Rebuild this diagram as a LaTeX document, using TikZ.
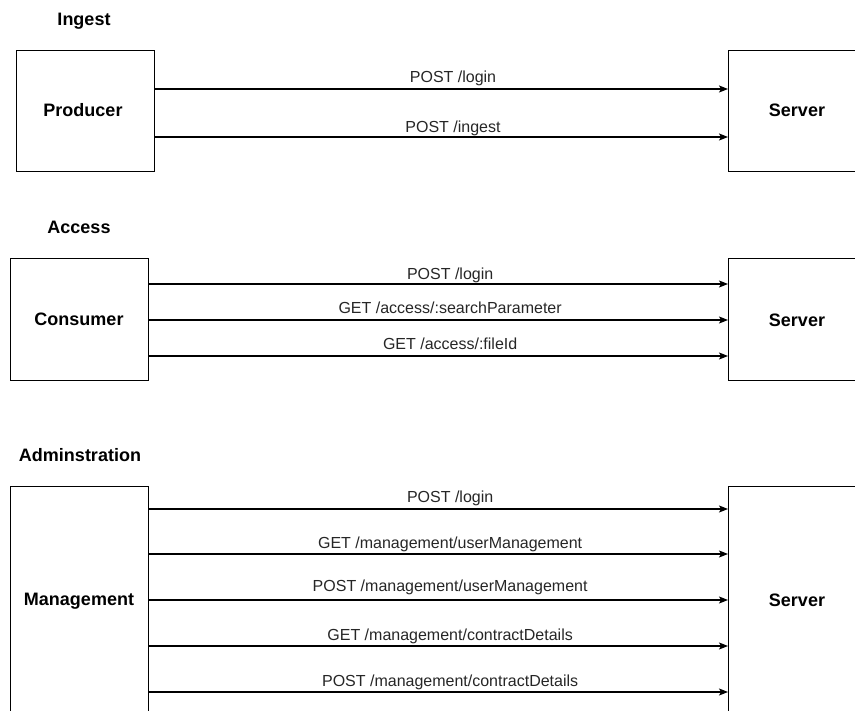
\documentclass[tikz,border=0pt]{standalone}
\usepackage{fontspec}
\setmainfont{Liberation Sans}
\usetikzlibrary{arrows.meta}
\begin{document}
\begin{tikzpicture}[x=1pt,y=-1pt,
  box/.style={draw, line width=1.1pt, minimum width=138pt, anchor=north west, inner sep=0pt},
  btxt/.style={font=\fontsize{18}{20}\selectfont\bfseries, inner sep=0pt},
  arr/.style={draw, line width=1.1pt, -{Stealth[length=9pt,width=7pt,inset=2pt]}},
  lbl/.style={font=\fontsize{16}{18}\selectfont, text=black!85, pos=.52, anchor=base, inner sep=0pt, yshift=6pt}]
\useasboundingbox (0,0) rectangle (855,711);
\clip (0,0) rectangle (855,711);

% Ingest
\node[btxt] (hIngest) at (84,21) {Ingest};
\node[box, minimum height=121pt] (prod) at (16,50) {};
\node[btxt] (prodt) at (83,110) {Producer};
\node[box, minimum height=121pt] (srv1) at (728,50) {};
\node[btxt] (srv1t) at (797,110) {Server};
\draw[arr] (prod.east |- 0,89) -- node[lbl] {POST /login} (srv1.west |- 0,89);
\draw[arr] (prod.east |- 0,137) -- node[lbl, yshift=-2pt] {POST /ingest} (srv1.west |- 0,137);

% Access
\node[btxt] (hAccess) at (79,227) {Access};
\node[box, minimum height=122pt] (cons) at (10,258) {};
\node[btxt] (const) at (79,319) {Consumer};
\node[box, minimum height=122pt] (srv2) at (728,258) {};
\node[btxt] (srv2t) at (797,320) {Server};
\draw[arr] (cons.east |- 0,284) -- node[lbl, yshift=-2pt] {POST /login} (srv2.west |- 0,284);
\draw[arr] (cons.east |- 0,320) -- node[lbl] {GET /access/:searchParameter} (srv2.west |- 0,320);
\draw[arr] (cons.east |- 0,356) -- node[lbl] {GET /access/:fileId} (srv2.west |- 0,356);

% Administration
\node[btxt] (hAdmin) at (80,455) {Adminstration};
\node[box, minimum height=250pt] (mgmt) at (10,486) {};
\node[btxt] (mgmtt) at (79,601) {Management};
\node[box, minimum height=250pt] (srv3) at (728,486) {};
\node[btxt] (srv3t) at (797,600) {Server};
\draw[arr] (mgmt.east |- 0,509) -- node[lbl] {POST /login} (srv3.west |- 0,509);
\draw[arr] (mgmt.east |- 0,554) -- node[lbl] {GET /management/userManagement} (srv3.west |- 0,554);
\draw[arr] (mgmt.east |- 0,600) -- node[lbl, yshift=3pt] {POST /management/userManagement} (srv3.west |- 0,600);
\draw[arr] (mgmt.east |- 0,646) -- node[lbl] {GET /management/contractDetails} (srv3.west |- 0,646);
\draw[arr] (mgmt.east |- 0,692) -- node[lbl] {POST /management/contractDetails} (srv3.west |- 0,692);
\end{tikzpicture}
\end{document}
